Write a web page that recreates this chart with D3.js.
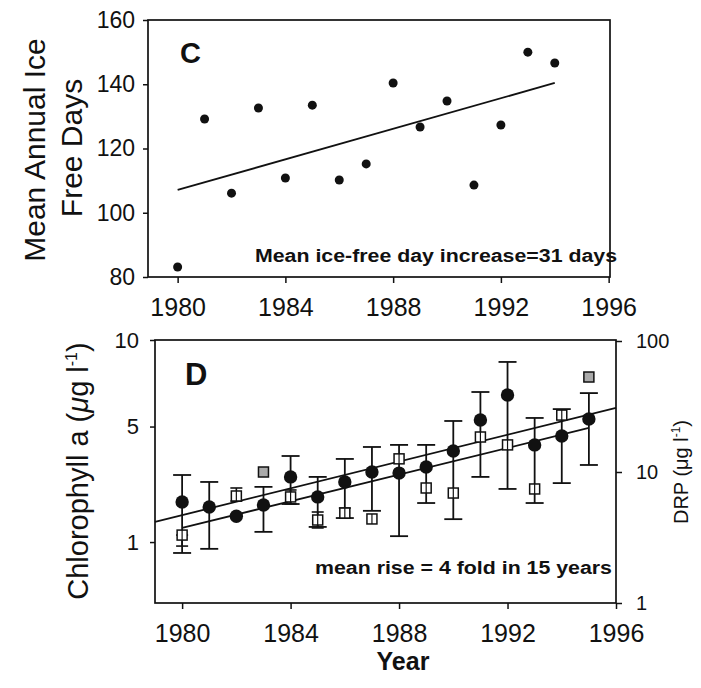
<!DOCTYPE html>
<html>
<head>
<meta charset="utf-8">
<script src="https://cdn.jsdelivr.net/npm/d3@7"></script>
<style>
body { margin: 0; background: #fff; }
svg text { font-family: "Liberation Sans", Arial, Helvetica, sans-serif; fill: #111; }
</style>
</head>
<body>
<script>
// Panel C: mean annual ice free days
var iceYears = [1980, 1981, 1982, 1983, 1984, 1985, 1986, 1987,
                1988, 1989, 1990, 1991, 1992, 1993, 1994];
var iceDays = [83.1, 129.2, 106.1, 132.6, 110.8, 133.5, 110.2, 115.2,
               140.4, 126.7, 134.8, 108.6, 127.3, 150.0, 146.6];
var iceTrendYears = [1980, 1994];
var iceTrendDays = [107.1, 140.4];

// Panel D: chlorophyll a (filled circles) and DRP (open squares)
var chlYears = [1980, 1981, 1982, 1983, 1984, 1985, 1986, 1987,
                1988, 1989, 1990, 1991, 1992, 1993, 1994, 1995];
var chlMean = [2.04, 1.89, 1.63, 1.95, 2.88, 2.20, 2.70, 3.06,
               3.02, 3.25, 3.90, 5.32, 6.62, 4.16, 4.56, 5.37];
var chlLow = [0.78, 0.86, null, 1.23, 1.98, 1.35, 1.58, 1.78,
              1.13, 2.01, 1.55, 2.88, 2.46, 2.01, 2.66, 3.33];
var chlHigh = [2.95, 2.70, null, 2.53, 3.69, 2.88, 3.57, 4.07,
               4.16, 4.16, 5.27, 6.79, 8.57, 5.42, 5.87, 6.73];
var drpMean = [3.30, null, 6.56, 10.0, 6.45, 4.30, 4.86, 4.38,
               12.6, 7.55, 6.91, 18.5, 16.1, 7.42, 27.2, 53.1];
var drpLow = [2.72, null, 6.00, null, 5.70, 3.74, 4.46, null,
              null, null, null, null, null, null, null, null];
var drpHigh = [3.30, null, 7.55, null, 7.29, 4.95, 5.31, null,
               null, null, null, null, null, null, null, null];
var drpShadedYears = [1983, 1995];
var chlTrendYears = [1979, 1996];
var chlTrendValues = [1.48, 5.93];
var drpTrendYears = [1980, 1995];
var drpTrendValues = [3.74, 21.7];

// Tick labels
var yearTicks = [1980, 1984, 1988, 1992, 1996];
var iceTicks = [80, 100, 120, 140, 160];
var chlTicks = [1, 5, 10];
var drpTicks = [1, 10, 100];

var ink = "#111";

var svg = d3.select("body")
    .append("svg")
    .attr("width", 701)
    .attr("height", 688);

//Panel boxes
var boxC = {left: 148, top: 20, right: 610, bottom: 277};
var boxD = {left: 155, top: 340, right: 616, bottom: 603};

//Scales
var xC = d3.scaleLinear()
    .domain([1978.9, 1996.05])
    .range([boxC.left, boxC.right]);
var yC = d3.scaleLinear()
    .domain([80, 160])
    .range([boxC.bottom, boxC.top]);
var xD = d3.scaleLinear()
    .domain([1979, 1996])
    .range([boxD.left, boxD.right]);
var yChl = d3.scaleSqrt()
    .domain([0.121, 10])
    .range([boxD.bottom, boxD.top]);
var yDrp = d3.scaleLog()
    .domain([1, 100])
    .range([boxD.bottom, boxD.top + 1]);

var plain = d3.format("d");

function styleAxis(g, size) {
    g.attr("font-family", null).attr("font-size", null);
    g.select(".domain").remove();
    g.selectAll(".tick line")
        .attr("stroke", ink)
        .attr("stroke-width", 1.5);
    g.selectAll(".tick text")
        .style("font-size", size + "px")
        .attr("fill", ink);
}

function drawFrame(box) {
    svg.append("rect")
        .attr("x", box.left)
        .attr("y", box.top)
        .attr("width", box.right - box.left)
        .attr("height", box.bottom - box.top)
        .attr("fill", "none")
        .attr("stroke", ink)
        .attr("stroke-width", 1.7);
}

/* ---------------- Panel C ---------------- */
svg.append("g")
    .attr("transform", "translate(" + boxC.left + ",0)")
    .call(d3.axisLeft(yC).tickValues(iceTicks).tickSize(5)
        .tickPadding(8).tickSizeOuter(0))
    .call(styleAxis, 23);

svg.append("g")
    .attr("transform", "translate(0," + boxC.bottom + ")")
    .call(d3.axisBottom(xC).tickValues(yearTicks).tickSize(6)
        .tickPadding(15).tickSizeOuter(0).tickFormat(plain))
    .call(styleAxis, 25);

drawFrame(boxC);

svg.append("line")
    .attr("x1", xC(iceTrendYears[0]))
    .attr("y1", yC(iceTrendDays[0]))
    .attr("x2", xC(iceTrendYears[1]))
    .attr("y2", yC(iceTrendDays[1]))
    .attr("stroke", ink)
    .attr("stroke-width", 1.8);

svg.append("g")
    .selectAll("circle")
    .data(iceYears)
    .enter().append("circle")
    .attr("cx", function(d) { return xC(d); })
    .attr("cy", function(d, i) { return yC(iceDays[i]); })
    .attr("r", 4.5)
    .attr("fill", ink);

svg.append("text")
    .attr("x", 180)
    .attr("y", 63)
    .style("font-size", "29px")
    .style("font-weight", "bold")
    .text("C");

svg.append("text")
    .attr("x", 255)
    .attr("y", 262)
    .attr("textLength", 362)
    .attr("lengthAdjust", "spacingAndGlyphs")
    .style("font-size", "18px")
    .style("font-weight", "bold")
    .text("Mean ice-free day increase=31 days");

svg.append("text")
    .attr("transform", "translate(45,150) rotate(-90)")
    .attr("text-anchor", "middle")
    .style("font-size", "30px")
    .text("Mean Annual Ice");
svg.append("text")
    .attr("transform", "translate(82,148) rotate(-90)")
    .attr("text-anchor", "middle")
    .style("font-size", "30px")
    .text("Free Days");

/* ---------------- Panel D ---------------- */
svg.append("g")
    .attr("transform", "translate(" + boxD.left + ",0)")
    .call(d3.axisLeft(yChl).tickValues(chlTicks).tickSize(5)
        .tickPadding(11).tickSizeOuter(0))
    .call(styleAxis, 22);

svg.append("g")
    .attr("transform", "translate(" + boxD.right + ",0)")
    .call(d3.axisRight(yDrp).tickValues(drpTicks).tickSize(6)
        .tickPadding(14).tickSizeOuter(0).tickFormat(plain))
    .call(styleAxis, 20);

svg.append("g")
    .attr("transform", "translate(0," + boxD.bottom + ")")
    .call(d3.axisBottom(xD).tickValues(yearTicks).tickSize(6)
        .tickPadding(15).tickSizeOuter(0).tickFormat(plain))
    .call(styleAxis, 25);

drawFrame(boxD);

//Trend lines
svg.append("line")
    .attr("x1", xD(chlTrendYears[0]))
    .attr("y1", yChl(chlTrendValues[0]))
    .attr("x2", xD(chlTrendYears[1]))
    .attr("y2", yChl(chlTrendValues[1]))
    .attr("stroke", ink)
    .attr("stroke-width", 1.8);
svg.append("line")
    .attr("x1", xD(drpTrendYears[0]))
    .attr("y1", yDrp(drpTrendValues[0]))
    .attr("x2", xD(drpTrendYears[1]))
    .attr("y2", yDrp(drpTrendValues[1]))
    .attr("stroke", ink)
    .attr("stroke-width", 1.8);

//Error bars, chlorophyll
var chlErr = svg.append("g")
    .attr("stroke", ink)
    .attr("stroke-width", 1.8);
chlYears.forEach(function(yr, i) {
    if (chlLow[i] == null) return;
    var x = xD(yr);
    chlErr.append("line")
        .attr("x1", x).attr("x2", x)
        .attr("y1", yChl(chlLow[i])).attr("y2", yChl(chlHigh[i]));
    [chlLow[i], chlHigh[i]].forEach(function(v) {
        chlErr.append("line")
            .attr("x1", x - 9).attr("x2", x + 9)
            .attr("y1", yChl(v)).attr("y2", yChl(v));
    });
});

//Error bars, DRP
var drpErr = svg.append("g")
    .attr("stroke", ink)
    .attr("stroke-width", 1.6);
chlYears.forEach(function(yr, i) {
    if (drpLow[i] == null) return;
    var x = xD(yr);
    drpErr.append("line")
        .attr("x1", x).attr("x2", x)
        .attr("y1", yDrp(drpLow[i])).attr("y2", yDrp(drpHigh[i]));
    [drpLow[i], drpHigh[i]].forEach(function(v) {
        drpErr.append("line")
            .attr("x1", x - 6).attr("x2", x + 6)
            .attr("y1", yDrp(v)).attr("y2", yDrp(v));
    });
});

//DRP squares
var sq = 10;
svg.append("g")
    .selectAll("rect")
    .data(chlYears.filter(function(d, i) { return drpMean[i] != null; }))
    .enter().append("rect")
    .attr("x", function(d) { return xD(d) - sq / 2; })
    .attr("y", function(d) {
        return yDrp(drpMean[chlYears.indexOf(d)]) - sq / 2;
    })
    .attr("width", sq)
    .attr("height", sq)
    .attr("fill", function(d) {
        return drpShadedYears.indexOf(d) >= 0 ? "#aaa" : "#fff";
    })
    .attr("stroke", ink)
    .attr("stroke-width", 1.5);

//vertical stroke through the open squares
svg.append("g")
    .selectAll("line")
    .data(chlYears.filter(function(d, i) {
        return drpMean[i] != null && drpShadedYears.indexOf(d) < 0;
    }))
    .enter().append("line")
    .attr("x1", function(d) { return xD(d); })
    .attr("x2", function(d) { return xD(d); })
    .attr("y1", function(d) {
        return yDrp(drpMean[chlYears.indexOf(d)]) - sq / 2;
    })
    .attr("y2", function(d) {
        return yDrp(drpMean[chlYears.indexOf(d)]) + sq / 2;
    })
    .attr("stroke", ink)
    .attr("stroke-width", 1.2);

//Chlorophyll circles
svg.append("g")
    .selectAll("circle")
    .data(chlYears)
    .enter().append("circle")
    .attr("cx", function(d) { return xD(d); })
    .attr("cy", function(d, i) { return yChl(chlMean[i]); })
    .attr("r", 6.7)
    .attr("fill", ink);

svg.append("text")
    .attr("x", 185)
    .attr("y", 385)
    .style("font-size", "31px")
    .style("font-weight", "bold")
    .text("D");

svg.append("text")
    .attr("x", 315)
    .attr("y", 574)
    .attr("textLength", 297)
    .attr("lengthAdjust", "spacingAndGlyphs")
    .style("font-size", "18px")
    .style("font-weight", "bold")
    .text("mean rise = 4 fold in 15 years");

var chlLabel = svg.append("text")
    .attr("transform", "translate(88,471) rotate(-90)")
    .attr("text-anchor", "middle")
    .style("font-size", "29px");
chlLabel.append("tspan").text("Chlorophyll a (");
chlLabel.append("tspan").style("font-style", "italic").text("\u03bc");
chlLabel.append("tspan").text("g l");
chlLabel.append("tspan").attr("dy", -11).style("font-size", "16px")
    .text("-1");
chlLabel.append("tspan").attr("dy", 11).text(")");

var drpLabel = svg.append("text")
    .attr("transform", "translate(688,472) rotate(-90)")
    .attr("text-anchor", "middle")
    .style("font-size", "20px");
drpLabel.append("tspan").text("DRP (\u03bcg l");
drpLabel.append("tspan").attr("dy", -8).style("font-size", "12px")
    .text("-1");
drpLabel.append("tspan").attr("dy", 8).text(")");

svg.append("text")
    .attr("x", 403)
    .attr("y", 670)
    .attr("text-anchor", "middle")
    .style("font-size", "25px")
    .style("font-weight", "bold")
    .text("Year");
</script>
</body>
</html>
